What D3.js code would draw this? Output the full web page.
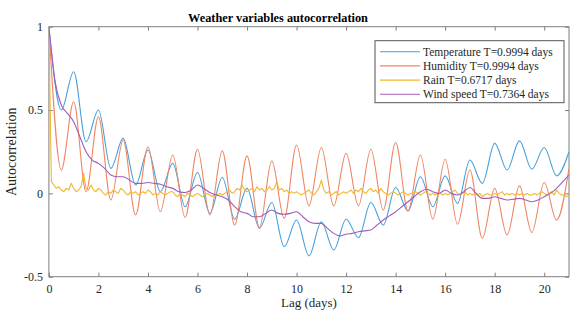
<!DOCTYPE html>
<html>
<head>
<meta charset="utf-8">
<script src="https://cdn.jsdelivr.net/npm/d3@7"></script>
<style>
body{margin:0;background:#fff;}
svg{font-family:"Liberation Serif","Times New Roman",serif;}
</style>
</head>
<body>
<div id="chart"></div>
<script>
const xTicks=[0,2,4,6,8,10,12,14,16,18,20];
const yTicks=[-0.5,0,0.5,1];
const yTickLabels=["-0.5","0","0.5","1"];
const seriesNames=["Temperature T=0.9994 days","Humidity T=0.9994 days","Rain T=0.6717 days","Wind speed T=0.7364 days"];

// lag step 0.5 day
const temperature=[1.00,0.50,0.73,0.31,0.50,0.15,0.33,0.05,0.26,0.01,
  0.18,-0.08,0.125,-0.12,0.095,-0.155,0.03,-0.21,-0.055,-0.32,
  -0.16,-0.375,-0.17,-0.34,-0.155,-0.265,-0.055,-0.19,0.035,-0.105,
  0.10,-0.08,0.105,-0.06,0.20,0.06,0.30,0.14,0.315,0.145,
  0.275,0.105,0.25];
// lag step 0.5 day
const humidity=[1.00,0.14,0.55,0.01,0.46,-0.04,0.32,-0.13,0.28,-0.11,
  0.23,-0.145,0.265,-0.13,0.255,-0.19,0.225,-0.205,0.195,-0.15,
  0.29,-0.075,0.275,-0.075,0.24,-0.075,0.265,-0.10,0.305,-0.105,
  0.23,-0.155,0.205,-0.185,0.14,-0.27,0.03,-0.25,0.045,-0.235,
  0.065,-0.16,0.15];
// lag step 0.1 day
const rain=[1.00,0.07,0.05,0.03,0.04,0.02,0.01,0.03,0.02,0.06,
  0.03,0.01,0.02,0.04,0.12,0.03,0.02,0.05,0.02,0.01,
  0.03,0.02,0.00,-0.01,0.01,0.00,0.02,0.01,0.00,0.03,
  0.02,0.00,-0.01,0.01,0.00,0.01,-0.01,0.00,0.01,0.00,
  0.02,0.01,-0.01,0.00,-0.01,0.01,0.00,-0.01,0.00,0.01,
  0.01,-0.01,-0.02,0.00,-0.01,-0.02,0.00,-0.01,-0.02,-0.01,
  0.00,-0.01,-0.02,-0.01,0.00,-0.01,-0.02,0.00,-0.01,0.00,
  -0.01,0.00,0.01,0.02,0.00,0.01,0.03,0.02,0.05,0.02,
  0.01,0.02,0.03,0.01,0.04,0.02,0.03,0.01,0.02,0.04,
  0.02,0.03,0.07,0.02,0.03,0.01,0.02,0.00,0.01,0.00,
  0.01,0.00,-0.01,0.00,0.01,0.02,0.00,-0.01,0.01,0.03,
  0.08,0.02,0.00,0.01,-0.01,0.00,0.01,-0.01,0.00,0.01,
  0.00,0.01,0.02,0.00,0.02,0.01,0.03,0.01,0.00,0.02,
  0.03,0.01,0.02,0.00,0.03,0.01,0.00,-0.01,0.00,0.01,
  0.00,-0.01,0.00,0.01,0.00,-0.01,0.00,0.00,0.01,0.00,
  -0.01,0.00,0.01,0.00,-0.01,0.00,-0.01,0.00,0.00,-0.01,
  0.00,-0.01,0.00,0.01,0.02,0.00,-0.01,0.00,0.01,-0.01,
  0.00,-0.01,0.00,-0.01,0.00,-0.02,-0.01,0.00,-0.01,-0.01,
  0.00,-0.01,0.00,0.01,-0.01,0.00,-0.01,0.00,-0.01,0.00,
  -0.01,0.00,-0.01,0.00,-0.01,-0.01,0.00,-0.01,0.00,0.01,
  0.00,-0.01,0.00,0.01,-0.01,0.02,0.00,-0.01,-0.01,-0.02,
  -0.01];
// lag step 0.25 day
const windSpeed=[1.00,0.67,0.53,0.48,0.43,0.34,0.25,0.20,
  0.18,0.15,0.11,0.10,0.10,0.08,0.06,0.06,
  0.065,0.06,0.055,0.04,0.03,0.01,0.005,0.02,
  0.05,0.03,0.005,-0.01,-0.02,-0.04,-0.08,-0.11,
  -0.12,-0.14,-0.14,-0.12,-0.10,-0.12,-0.125,-0.12,
  -0.11,-0.14,-0.17,-0.18,-0.18,-0.21,-0.24,-0.255,
  -0.245,-0.24,-0.23,-0.225,-0.22,-0.19,-0.16,-0.135,
  -0.11,-0.08,-0.05,-0.02,0.01,0.025,0.01,0.00,
  0.02,0.00,-0.01,0.01,0.035,0.00,-0.03,-0.03,
  -0.02,-0.03,-0.04,-0.035,-0.03,-0.04,-0.05,-0.04,
  -0.02,0.00,0.03,0.07,0.11];

const seriesValues=[temperature,humidity,rain,windSpeed];
const seriesSteps=[0.5,0.5,0.1,0.25];
const colors=["#45a0dc","#ef8663","#f2b630","#a45cb8"];

const w=580, h=330;
const plotLeft=48.9, plotRight=569, plotTop=26.7, plotBottom=276.7;

const x=d3.scaleLinear().domain([0,21]).range([plotLeft,plotRight]);
const y=d3.scaleLinear().domain([-0.5,1]).range([plotBottom,plotTop]);

const svg=d3.select("#chart").append("svg")
  .attr("width",w).attr("height",h);

svg.append("defs").append("clipPath").attr("id","plotclip")
  .append("rect").attr("x",plotLeft).attr("y",plotTop-2)
  .attr("width",plotRight-plotLeft).attr("height",plotBottom-plotTop+4);

const axisColor="#7f7f7f";
const textColor="#262626";

function styleAxis(g){
  g.select(".domain").remove();
  g.selectAll(".tick line").attr("stroke",axisColor);
  g.selectAll(".tick text").attr("fill",textColor).style("font-size","12px")
    .style("font-family","'Liberation Serif','Times New Roman',serif");
}

svg.append("g").attr("transform",`translate(0,${plotBottom})`)
  .call(d3.axisBottom(x).tickValues(xTicks).tickSizeInner(-4).tickSizeOuter(0).tickPadding(8))
  .call(styleAxis);
svg.append("g").attr("transform",`translate(0,${plotTop})`)
  .call(d3.axisTop(x).tickValues(xTicks).tickSizeInner(-4).tickSizeOuter(0).tickFormat(""))
  .call(styleAxis);
svg.append("g").attr("transform",`translate(${plotLeft},0)`)
  .call(d3.axisLeft(y).tickValues(yTicks).tickSizeInner(-4).tickSizeOuter(0).tickPadding(6)
    .tickFormat((d,i)=>yTickLabels[i]))
  .call(styleAxis);
svg.append("g").attr("transform",`translate(${plotRight},0)`)
  .call(d3.axisRight(y).tickValues(yTicks).tickSizeInner(-4).tickSizeOuter(0).tickFormat(""))
  .call(styleAxis);

svg.append("rect")
  .attr("x",plotLeft).attr("y",plotTop)
  .attr("width",plotRight-plotLeft).attr("height",plotBottom-plotTop)
  .attr("fill","none").attr("stroke",axisColor).attr("stroke-width",1);

const lines=svg.append("g").attr("clip-path","url(#plotclip)");
seriesValues.forEach((vals,k)=>{
  const step=seriesSteps[k];
  const pts=vals.map((v,i)=>[i*step,v]);
  const line=d3.line()
    .x(d=>x(d[0])).y(d=>y(d[1]))
    .curve(k===2?d3.curveLinear:d3.curveMonotoneX);
  lines.append("path")
    .datum(pts)
    .attr("d",line)
    .attr("fill","none")
    .attr("stroke",colors[k])
    .attr("stroke-width",1.1)
    .attr("stroke-linejoin","round");
});

svg.append("text")
  .text("Weather variables autocorrelation")
  .attr("x",278).attr("y",22)
  .attr("text-anchor","middle")
  .style("font-size","12.3px").style("font-weight","bold").attr("fill","#000");

svg.append("text")
  .text("Lag (days)")
  .attr("x",(plotLeft+plotRight)/2).attr("y",307)
  .attr("text-anchor","middle")
  .style("font-size","13px").attr("fill",textColor);

svg.append("text")
  .text("Autocorrelation")
  .attr("transform",`translate(16,${(plotTop+plotBottom)/2}) rotate(-90)`)
  .attr("text-anchor","middle")
  .style("font-size","14px").attr("fill",textColor);

const legend=svg.append("g");
legend.append("rect")
  .attr("x",375).attr("y",40.7).attr("width",189).attr("height",62)
  .attr("fill","#fff").attr("stroke","#555").attr("stroke-width",1);
seriesNames.forEach((name,k)=>{
  const ry=51.7+k*14.2;
  legend.append("line")
    .attr("x1",380).attr("x2",420).attr("y1",ry).attr("y2",ry)
    .attr("stroke",colors[k]).attr("stroke-width",1.1);
  legend.append("text")
    .text(name)
    .attr("x",423).attr("y",ry+4)
    .style("font-size","11.5px").attr("fill",textColor);
});
</script>
</body>
</html>
